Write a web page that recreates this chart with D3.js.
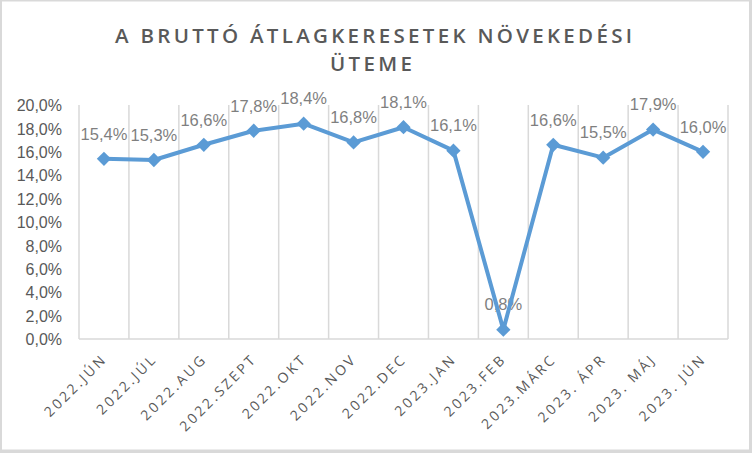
<!DOCTYPE html>
<html><head><meta charset="utf-8">
<script src="https://cdn.jsdelivr.net/npm/d3@7/dist/d3.min.js"></script>
<style>body{margin:0;background:#fff}svg{display:block}</style>
</head><body>
<script>
const categories = ["2022.JÚN","2022.JÚL","2022.AUG","2022.SZEPT","2022.OKT","2022.NOV","2022.DEC","2023.JAN","2023.FEB","2023.MÁRC","2023. ÁPR","2023. MÁJ","2023. JÚN"];
const values = [15.4,15.3,16.6,17.8,18.4,16.8,18.1,16.1,0.8,16.6,15.5,17.9,16.0];
const yTicks = [0,2,4,6,8,10,12,14,16,18,20];
const titleLines = ["A BRUTTÓ ÁTLAGKERESETEK NÖVEKEDÉSI","ÜTEME"];

const W=752,H=453;
const svg=d3.select("body").append("svg").attr("width",W).attr("height",H);
svg.append("rect").attr("width",W).attr("height",H).attr("fill","#d9d9d9");
svg.append("rect").attr("x",2).attr("y",1.5).attr("width",747).attr("height",448).attr("fill","#fff");

const L=79,R=728,T=105,B=339;
const x=d3.scaleBand().domain(categories).range([L,R]);
const y=d3.scaleLinear().domain([0,20]).range([B,T]);
const fmt=v=>d3.format(".1f")(v).replace(".",",")+"%";

// vertical gridlines at category boundaries
const bounds=categories.map(c=>x(c)).concat([R]);
svg.append("g").selectAll("line").data(bounds).join("line")
  .attr("x1",d=>d).attr("x2",d=>d).attr("y1",T).attr("y2",B)
  .attr("stroke","#d9d9d9").attr("stroke-width",1.5);
svg.append("line").attr("x1",L).attr("x2",R).attr("y1",B).attr("y2",B)
  .attr("stroke","#d9d9d9").attr("stroke-width",1.5);

// y axis labels
const yAxis=d3.axisLeft(y).tickValues(yTicks).tickSize(0).tickPadding(0).tickFormat(v=>fmt(v));
const ga=svg.append("g").attr("transform",`translate(62,0)`).call(yAxis);
ga.select(".domain").remove();
ga.selectAll("text").attr("font-family","Liberation Sans, Arial, sans-serif").attr("font-size",16).attr("fill","#595959").attr("dy","0.35em");

// x axis labels
const xa=svg.append("g").attr("transform",`translate(0,${B})`).call(d3.axisBottom(x).tickSize(0).tickPadding(0));
xa.select(".domain").remove();
xa.selectAll(".tick text")
  .attr("font-family","Open Sans, sans-serif").attr("font-size",14).attr("fill","#595959")
  .attr("letter-spacing","2.7px")
  .attr("text-anchor","end").attr("dy",0).attr("y",0)
  .attr("transform","translate(4,21) rotate(-45)");

// data labels (drawn beneath the line)
svg.append("g").selectAll("text").data(values).join("text")
  .attr("x",(d,i)=>x(categories[i])+x.bandwidth()/2)
  .attr("y",d=>y(d)-25).attr("dy","0.35em")
  .attr("text-anchor","middle")
  .attr("font-family","Liberation Sans, Arial, sans-serif").attr("font-size",16.5).attr("fill","#7f7f7f")
  .text(d=>fmt(d));

const cx=(d,i)=>x(categories[i])+x.bandwidth()/2;
svg.append("path").datum(values)
  .attr("d",d3.line().x(cx).y(d=>y(d)))
  .attr("fill","none").attr("stroke","#5b9bd5").attr("stroke-width",4).attr("stroke-linejoin","round");
svg.append("g").selectAll("path").data(values).join("path")
  .attr("d",d3.symbol(d3.symbolDiamond2,130)())
  .attr("transform",(d,i)=>`translate(${cx(d,i)},${y(d)})`)
  .attr("fill","#5b9bd5");

// title
const tt=svg.append("g").attr("font-family","Open Sans, sans-serif").attr("font-weight",600).attr("font-size",20.5).attr("fill","#595959").attr("text-anchor","start");
tt.append("text").attr("x",115).attr("y",42.5).attr("textLength",517).attr("lengthAdjust","spacing").text(titleLines[0]);
tt.append("text").attr("x",330).attr("y",71).attr("textLength",82).attr("lengthAdjust","spacing").text(titleLines[1]);
</script>
</body></html>
